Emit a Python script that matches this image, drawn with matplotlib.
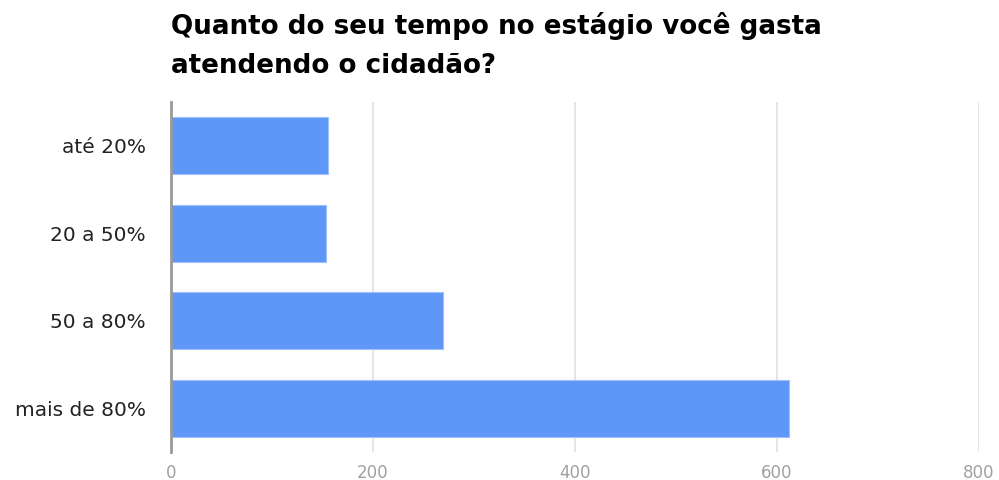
import matplotlib
matplotlib.use("Agg")
import matplotlib.pyplot as plt

# data
categories = ["até 20%", "20 a 50%", "50 a 80%", "mais de 80%"]
values = [155, 153, 269, 612]
x_ticks = [0, 200, 400, 600, 800]
title = "Quanto do seu tempo no estágio você gasta\natendendo o cidadão?"

plt.rcParams["font.family"] = ["DejaVu Sans"]

fig = plt.figure(figsize=(9.99, 4.8), dpi=100)
ax = fig.add_axes([171 / 999, 28 / 480, 808 / 999, 350 / 480])

pos = list(range(len(categories)))
ax.barh(pos, values, height=0.65, color="#5f97f6", edgecolor="#9dc0fa", linewidth=0.8, zorder=3)

ax.set_xlim(0, 800)
ax.set_ylim(len(categories) - 0.5, -0.5)
ax.set_xticks(x_ticks)
ax.set_xticklabels([str(t) for t in x_ticks])
ax.set_yticks(pos)
ax.set_yticklabels(categories)

ax.grid(axis="x", color="#e0e0e0", linewidth=1.2, zorder=0)
for s in ["top", "right", "bottom"]:
    ax.spines[s].set_visible(False)
ax.spines["left"].set_color("#999999")
ax.spines["left"].set_linewidth(2)
ax.spines["left"].set_zorder(4)

ax.tick_params(axis="x", length=0, pad=9, labelsize=12, labelcolor="#a0a0a0")
ax.tick_params(axis="y", length=0, pad=18, labelsize=14.5, labelcolor="#222222")

fig.text(171 / 999, 1 - 12 / 480, title, ha="left", va="top", fontsize=18.8,
         fontweight="bold", color="#000000", linespacing=1.65)

fig.savefig("out.png", dpi=100)
